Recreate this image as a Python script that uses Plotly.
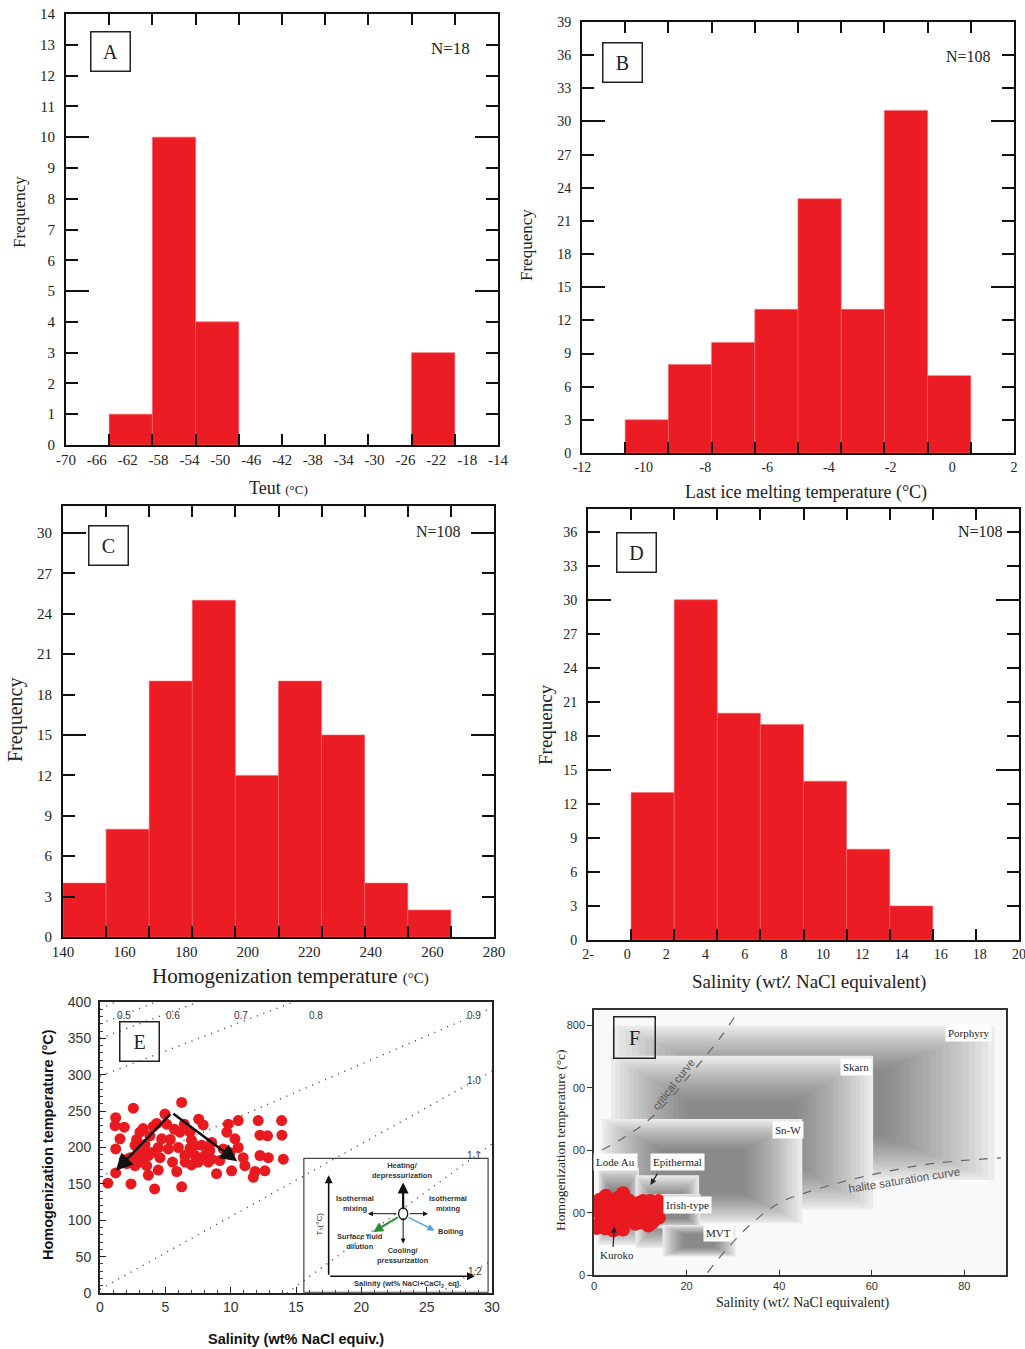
import plotly.graph_objects as go

W, H = 1025, 1349
RED = '#ec1c24'
SERIF = 'Liberation Serif'
SANS = 'Liberation Sans'

# ---------------- data ----------------
A_bin_start, A_bin_width = -70, 5.6
A_counts = [0, 1, 10, 4, 0, 0, 0, 0, 3, 0]
A_xlabels = list(range(-70, -13, 4))

B_bin_start, B_bin_width = -12, 1.4
B_counts = [0, 3, 8, 10, 13, 23, 13, 31, 7, 0]
B_xlabels = list(range(-12, 3, 2))

C_bin_start, C_bin_width = 140, 14
C_counts = [4, 8, 19, 25, 12, 19, 15, 4, 2, 0]
C_xlabels = list(range(140, 281, 20))

D_bin_start, D_bin_width = -2, 2.2
D_counts = [0, 13, 30, 20, 19, 14, 8, 3, 0, 0]
D_xlabels = list(range(-2, 21, 2))
D_xlabeltext = ['2-'] + [str(v) for v in range(0, 21, 2)]

# Fluid inclusion data (salinity wt% NaCl eq., Th °C)
E_salinity = [0.6, 1.2, 1.2, 1.15, 1.86, 1.53, 1.2, 1.86, 2.37, 2.55, 2.8, 3.06, 3.1, 3.19,
              3.44, 3.57, 3.7, 3.82, 4.08, 4.18, 4.34, 4.46, 4.59, 4.46, 3.7, 4.97, 5.1,
              5.38, 5.55, 5.87, 6.0, 6.25, 6.25, 6.45, 6.52, 6.89, 6.89, 7.0, 7.27, 7.55,
              7.9, 7.78, 8.03, 8.29, 8.54, 8.92, 9.17, 9.43, 9.7, 9.82, 10.07, 10.33, 10.58,
              10.58, 10.96, 11.09, 11.73, 11.86, 12.11, 12.24, 12.24, 12.62, 12.82, 12.88,
              13.9, 13.92, 14.03, 2.3, 2.68, 3.31, 3.95, 6.5, 7.27, 7.53, 8.4, 2.68, 5.23,
              2.04, 4.72, 8.54, 7.0, 6.12, 9.95, 3.3, 5.7, 2.9]
E_th = [151, 165, 241, 230, 228, 212, 198, 183, 150, 254, 211, 221, 194, 180,
        204, 175, 162, 216, 229, 143, 233, 200, 186, 169, 189, 246, 232,
        211, 180, 167, 200, 262, 146, 232, 180, 221, 199, 176, 189, 239,
        231, 203, 189, 180, 207, 164, 182, 198, 221, 232, 168, 212, 237,
        200, 186, 175, 159, 167, 237, 217, 189, 168, 216, 186,
        237, 217, 184, 186, 175, 200, 193, 189, 203, 180, 196, 203, 198,
        178, 212, 184, 210, 221, 193, 226, 225, 188]

# trend arrows (apex -> tips)
E_arrow_from_sal, E_arrow_from_th = [5.5, 5.5], [248, 248]
E_arrow_to_sal, E_arrow_to_th = [1.2, 10.5], [168, 181]

# isochores (g/cm3)
E_iso_labels = ['0.5', '0.6', '0.7', '0.8', '0.9', '1.0', '1.1', '1.2']
E_iso_sal0 = [0, 0, 0, 0, 0, 0, 14.3, 26.0]
E_iso_th0 = [390, 370, 350, 298, 160, 5, 0, 0]
E_iso_sal1 = [1.2, 4.3, 7.5, 14.8, 30, 30, 30, 30]
E_iso_th1 = [400, 400, 400, 400, 392, 305, 205, 45]
E_iso_lab_sal = [1.8, 5.6, 10.8, 16.5, 28.6, 28.6, 28.6, 28.7]
E_iso_lab_th = [381, 381, 381, 381, 381, 292, 189, 29]

# deposit-type fields
F_types = ['Porphyry', 'Skarn', 'Sn-W', 'Lode Au', 'Epithermal', 'Irish-type', 'MVT']
F_sal_min = [4.0, 3.7, 1.7, 0.9, 9.0, 13.0, 14.8]
F_sal_max = [86.5, 60.3, 45.0, 9.7, 22.7, 23.0, 30.6]
F_th_min = [305, 210, 166, 96, 86, 150, 59]
F_th_max = [800, 703, 500, 345, 320, 260, 160]
F_crit_sal = [1.8, 6.9, 11.9, 16.9, 20.5, 24.1, 27.0, 31.0]
F_crit_th = [401, 445, 498, 573, 638, 702, 756, 841]
F_hal_sal = [24.5, 28.5, 34.2, 40, 45.8, 53, 60.1, 67.4, 74.6, 87.9]
F_hal_th = [8, 80, 167, 231, 264, 296, 322, 344, 360, 376]

# ---------------- helpers ----------------
def px(v):
    return v / W

def py(v):
    return 1 - v / H

fig = go.Figure()
layout = {}
annotations = []
shapes = []


def ann(text, x, y, size, family=SERIF, color='#222', angle=0, **kw):
    d = dict(text=text, x=px(x), y=py(y), xref='paper', yref='paper', showarrow=False,
             font=dict(size=size, family=family, color=color), textangle=angle,
             xanchor='center', yanchor='middle')
    d.update(kw)
    annotations.append(d)


def letter_box(letter, cx, cy, size=38):
    annotations.append(dict(text=letter, x=px(cx), y=py(cy), xref='paper', yref='paper',
                            showarrow=False, width=size, height=size,
                            bordercolor='#222', borderwidth=1.5, borderpad=0,
                            bgcolor='rgba(255,255,255,0)',
                            font=dict(size=20, family=SERIF, color='#222'),
                            xanchor='center', yanchor='middle'))


def add_hist(idx, start, width, counts, dom, xr, xlabels, xlabeltext, yr, yticks, ymajor, fs):
    a, b = 2 * idx + 1, 2 * idx + 2
    centers = [start + width * (k + 0.5) for k in range(len(counts))]
    edges = [start + width * k for k in range(1, len(counts))]
    lw = [0.6 if c > 0 else 0 for c in counts]
    fig.add_trace(go.Bar(x=centers, y=counts, width=width,
                         marker=dict(color=RED, line=dict(color='#f0666b', width=lw)),
                         xaxis=f'x{a}', yaxis=f'y{a}', hoverinfo='skip', showlegend=False))
    fig.add_trace(go.Scatter(x=[None], y=[None], xaxis=f'x{b}', yaxis=f'y{b}',
                             showlegend=False, hoverinfo='skip'))
    l, r, t, bt = dom
    tf = dict(family=SERIF, size=fs, color='#222')
    layout[f'xaxis{a}'] = dict(domain=[px(l), px(r)], anchor=f'y{a}', range=xr,
                               tickvals=xlabels, ticktext=xlabeltext, ticks='',
                               showline=True, linewidth=2, linecolor='#111', mirror=True,
                               showgrid=False, zeroline=False, tickfont=tf, automargin=False,
                               ticklabeloverflow='allow')
    layout[f'yaxis{a}'] = dict(domain=[py(bt), py(t)], anchor=f'x{a}', range=yr,
                               tickvals=yticks, ticks='inside', ticklen=12, tickwidth=2,
                               tickcolor='#111', mirror='ticks', showline=True, linewidth=2,
                               linecolor='#111', showgrid=False, zeroline=False, tickfont=tf,
                               ticklabelstandoff=6, automargin=False, ticklabeloverflow='allow')
    layout[f'xaxis{b}'] = dict(overlaying=f'x{a}', anchor=f'y{b}', range=xr, tickvals=edges,
                               ticks='inside', ticklen=11, tickwidth=2, tickcolor='#111',
                               mirror='ticks', showticklabels=False, showgrid=False,
                               zeroline=False, showline=False, automargin=False)
    layout[f'yaxis{b}'] = dict(overlaying=f'y{a}', anchor=f'x{b}', range=yr, tickvals=ymajor,
                               ticks='inside', ticklen=23, tickwidth=2, tickcolor='#111',
                               mirror='ticks', showticklabels=False, showgrid=False,
                               zeroline=False, showline=False, automargin=False)


# ---------------- panels A-D ----------------
add_hist(0, A_bin_start, A_bin_width, A_counts, (66, 498, 14, 445), [-70, -14],
         A_xlabels, [str(v) for v in A_xlabels], [0, 14], list(range(0, 15)), [5, 10], 15)
add_hist(1, B_bin_start, B_bin_width, B_counts, (582, 1014, 22, 453), [-12, 2],
         B_xlabels, [str(v) for v in B_xlabels], [0, 39], list(range(0, 40, 3)), [15, 30], 14)
add_hist(2, C_bin_start, C_bin_width, C_counts, (63, 494, 506, 937), [140, 280],
         C_xlabels, [str(v) for v in C_xlabels], [0, 32], list(range(0, 31, 3)), [15, 30], 15)
add_hist(3, D_bin_start, D_bin_width, D_counts, (588, 1019, 509, 940), [-2, 20],
         D_xlabels, D_xlabeltext, [0, 38], list(range(0, 37, 3)), [15, 30], 14)

# titles A-D
ann("Teut <span style='font-size:13px'>(°C)</span>", 278, 488, 18)
ann('Frequency', 20, 212, 17, angle=-90)
ann('N=18', 450, 48, 17)
letter_box('A', 110, 52)

ann('Last ice melting temperature (°C)', 806, 492, 18)
ann('Frequency', 527, 245, 17, angle=-90)
ann('N=108', 968, 57, 16)
letter_box('B', 622, 62)

ann("Homogenization temperature <span style='font-size:15px'>(°C)</span>", 290, 976, 21)
ann('Frequency', 15, 720, 20, angle=-90)
ann('N=108', 438, 532, 16)
letter_box('C', 108, 545)

ann('Salinity (wt٪ NaCl equivalent)', 809, 982, 19)
ann('Frequency', 545, 725, 19, angle=-90)
ann('N=108', 980, 532, 16)
letter_box('D', 636, 552)

# ---------------- panel E ----------------
xe, ye = 'x9', 'y9'
for i in range(len(E_iso_labels)):
    fig.add_trace(go.Scatter(x=[E_iso_sal0[i], E_iso_sal1[i]], y=[E_iso_th0[i], E_iso_th1[i]],
                             mode='lines', line=dict(color='#444', width=1.5, dash='1px,6px'),
                             xaxis=xe, yaxis=ye, hoverinfo='skip', showlegend=False))
    annotations.append(dict(text=E_iso_labels[i], x=E_iso_lab_sal[i], y=E_iso_lab_th[i],
                            xref=xe, yref=ye, showarrow=False,
                            font=dict(size=10, family=SANS, color='#333')))

fig.add_trace(go.Scatter(x=E_salinity, y=E_th, mode='markers',
                         marker=dict(color='#e8191f', size=11, line=dict(width=0)),
                         xaxis=xe, yaxis=ye, hoverinfo='skip', showlegend=False))
for i in range(len(E_arrow_to_sal)):
    annotations.append(dict(x=E_arrow_to_sal[i], y=E_arrow_to_th[i], ax=E_arrow_from_sal[i],
                            ay=E_arrow_from_th[i], xref=xe, yref=ye, axref=xe, ayref=ye,
                            showarrow=True, arrowhead=2, arrowsize=1.3, arrowwidth=2.6,
                            arrowcolor='#111', text=''))

layout['xaxis9'] = dict(domain=[px(100), px(492)], anchor='y9', range=[0, 30],
                        tickvals=list(range(0, 31, 5)), ticks='inside', ticklen=6, tickwidth=1,
                        tickcolor='#222', minor=dict(dtick=1, ticklen=3, ticks='inside', tickcolor='#444'),
                        showline=True, linewidth=2, linecolor='#222', mirror=True,
                        showgrid=False, zeroline=False, automargin=False, ticklabeloverflow='allow',
                        tickfont=dict(family=SANS, size=14, color='#333'))
layout['yaxis9'] = dict(domain=[py(1293), py(1002)], anchor='x9', range=[0, 400],
                        tickvals=list(range(0, 401, 50)), ticks='inside', ticklen=6, tickwidth=1,
                        tickcolor='#222', minor=dict(dtick=10, ticklen=3, ticks='inside', tickcolor='#444'),
                        showline=True, linewidth=2, linecolor='#222', mirror=True,
                        showgrid=False, zeroline=False, ticklabelstandoff=4, automargin=False,
                        ticklabeloverflow='allow',
                        tickfont=dict(family=SANS, size=14, color='#333'))

# inset schematic (drawn in panel E's axes)
shapes.append(dict(type='rect', xref=xe, yref=ye, x0=15.6, x1=29.7, y0=1, y1=185,
                   line=dict(color='#444', width=1.2), fillcolor='rgba(0,0,0,0)'))
inset_arrows = [
    (17.5, 23, 17.5, 162, '#111', 1.6),
    (17.5, 23, 28.7, 23, '#111', 1.6),
    (23.2, 113, 23.2, 152, '#111', 2.2),
    (23.2, 105, 23.2, 68, '#111', 1.0),
    (22.8, 109, 20.5, 109, '#111', 1.0),
    (23.6, 109, 25.1, 109, '#111', 1.0),
    (22.9, 105, 20.9, 84, '#2e8b3a', 2.0),
    (23.5, 105, 25.6, 86, '#4aa3d8', 1.4),
]
for (x0, y0, x1, y1, c, w) in inset_arrows:
    annotations.append(dict(x=x1, y=y1, ax=x0, ay=y0, xref=xe, yref=ye, axref=xe, ayref=ye,
                            showarrow=True, arrowhead=2, arrowsize=1.0, arrowwidth=w,
                            arrowcolor=c, text=''))
shapes.append(dict(type='circle', xref=xe, yref=ye, x0=22.85, x1=23.55, y0=101, y1=117,
                   line=dict(color='#111', width=1.3), fillcolor='white'))
inset_texts = [
    ('Heating/<br>depressurization', 23.1, 168),
    ('Isothermal<br>mixing', 19.5, 123),
    ('Isothermal<br>mixing', 26.6, 123),
    ('Surface fluid<br>dilution', 19.9, 71),
    ('Boiling', 26.9, 85),
    ('Cooling/<br>pressurization', 23.2, 52),
    ('Salinity (wt% NaCl+CaCl<sub>2</sub>  eq).', 23.5, 12),
]
for (t, x, y) in inset_texts:
    annotations.append(dict(text='<b>' + t + '</b>', x=x, y=y, xref=xe, yref=ye, showarrow=False,
                            font=dict(size=7.5, family=SANS, color='#333')))
annotations.append(dict(text='T<sub>h</sub>(°C)', x=16.8, y=95, xref=xe, yref=ye,
                        showarrow=False, textangle=-90,
                        font=dict(size=8, family=SANS, color='#333')))

ann('<b>Homogenization temperature (°C)</b>', 48, 1145, 14.5, family=SANS, color='#111', angle=-90)
ann('<b>Salinity (wt% NaCl equiv.)</b>', 296, 1339, 14.5, family=SANS, color='#111')
letter_box('E', 139, 1041)

# ---------------- panel F ----------------
xf, yf = 'x10', 'y10'
shapes.append(dict(type='rect', xref=xf, yref=yf, x0=0, x1=89, y0=0, y1=850,
                   fillcolor='#f9f9f9', line=dict(width=0), layer='below'))
for i in range(len(F_types)):
    x0, x1, y0, y1 = F_sal_min[i], F_sal_max[i], F_th_min[i], F_th_max[i]
    w, h = x1 - x0, y1 - y0
    shapes.append(dict(type='rect', xref=xf, yref=yf, x0=x0, x1=x1, y0=y0, y1=y1,
                       fillcolor='#f3f3f3', line=dict(width=0), layer='below'))
    n = 18
    for k in range(n):
        f = 0.017 * k
        shapes.append(dict(type='rect', xref=xf, yref=yf, x0=x0 + f * w, x1=x1 - f * w,
                           y0=y0 + f * h, y1=y1 - f * h,
                           fillcolor='rgba(50,50,50,0.04)', line=dict(width=0), layer='below'))

fig.add_trace(go.Scatter(x=F_crit_sal, y=F_crit_th, mode='lines', line_shape='spline',
                         line=dict(color='#666', width=1.2, dash='dash'),
                         xaxis=xf, yaxis=yf, hoverinfo='skip', showlegend=False))
fig.add_trace(go.Scatter(x=F_hal_sal, y=F_hal_th, mode='lines', line_shape='spline',
                         line=dict(color='#666', width=1.2, dash='dash'),
                         xaxis=xf, yaxis=yf, hoverinfo='skip', showlegend=False))
fig.add_trace(go.Scatter(x=E_salinity, y=E_th, mode='markers',
                         marker=dict(color='#e8191f', size=14, line=dict(width=0)),
                         xaxis=xf, yaxis=yf, hoverinfo='skip', showlegend=False))

F_label_pos = {'Porphyry': (80.9, 775), 'Skarn': (56.5, 668), 'Sn-W': (41.8, 465),
               'Lode Au': (4.7, 363), 'Epithermal': (18.0, 363), 'Irish-type': (20.3, 225),
               'MVT': (27.0, 134), 'Kuroko': (5.0, 64)}
for name, (x, y) in F_label_pos.items():
    annotations.append(dict(text=name, x=x, y=y, xref=xf, yref=yf, showarrow=False,
                            bgcolor='white', borderpad=2,
                            font=dict(size=11, family=SERIF, color='#222')))
annotations.append(dict(x=12.2, y=289, ax=13.9, ay=330, xref=xf, yref=yf, axref=xf, ayref=yf,
                        showarrow=True, arrowhead=2, arrowsize=1, arrowwidth=1.2,
                        arrowcolor='#222', text=''))
annotations.append(dict(x=4.4, y=155, ax=4.1, ay=85, xref=xf, yref=yf, axref=xf, ayref=yf,
                        showarrow=True, arrowhead=2, arrowsize=1, arrowwidth=1.2,
                        arrowcolor='#222', text=''))
annotations.append(dict(text='critical curve', x=17.2, y=612, xref=xf, yref=yf, showarrow=False,
                        textangle=-52, font=dict(size=11, family=SANS, color='#555')))
annotations.append(dict(text='halite saturation curve', x=67.0, y=305, xref=xf, yref=yf,
                        showarrow=False, textangle=-9,
                        font=dict(size=11.5, family=SANS, color='#555')))

layout['xaxis10'] = dict(domain=[px(594), px(1006)], anchor='y10', range=[0, 89],
                         tickvals=[0, 20, 40, 60, 80], ticks='inside', ticklen=5, tickwidth=1.2,
                         tickcolor='#333', showline=True, linewidth=1.5, linecolor='#333',
                         mirror=True, showgrid=False, zeroline=False, automargin=False,
                         tickfont=dict(family=SANS, size=11, color='#333'))
layout['yaxis10'] = dict(domain=[py(1275), py(1010)], anchor='x10', range=[0, 850],
                         tickvals=[0, 200, 400, 600, 800], ticktext=['0', '00', '00', '00', '800'],
                         ticks='outside', ticklen=5, tickwidth=1.2, tickcolor='#333',
                         showline=True, linewidth=1.5, linecolor='#333', mirror=True,
                         showgrid=False, zeroline=False, automargin=False,
                         tickfont=dict(family=SANS, size=11, color='#333'))

ann('Homogenization temperature (°c)', 560, 1140, 13.5, angle=-90)
ann('Salinity (wt٪ NaCl equivalent)', 803, 1303, 14)
letter_box('F', 634, 1037, size=40)

fig.update_layout(width=W, height=H, margin=dict(l=0, r=0, t=0, b=0, autoexpand=False),
                  paper_bgcolor='white', plot_bgcolor='white', showlegend=False,
                  annotations=annotations, shapes=shapes, **layout)
fig.write_html('out.html', config={'displayModeBar': False},
               post_script="document.body.style.margin='0px';document.body.style.overflow='hidden';")
